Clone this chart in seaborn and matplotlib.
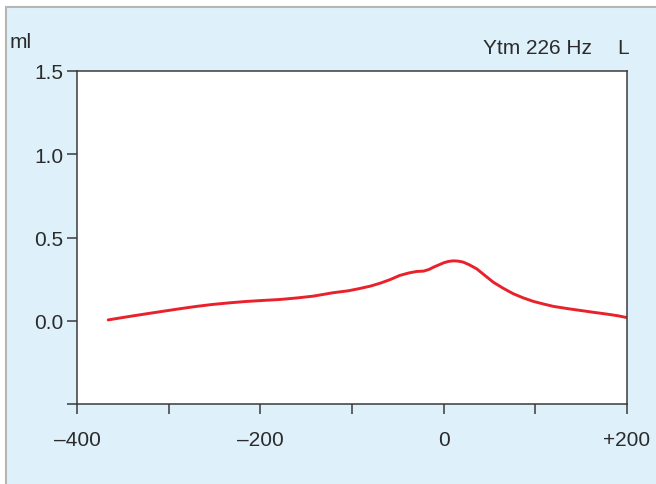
import matplotlib
matplotlib.use("Agg")
import matplotlib.pyplot as plt
import seaborn as sns
import pandas as pd
from matplotlib.patches import Rectangle

# Data
pressure = [-366, -345, -324, -306, -288, -270, -252, -233, -215, -197, -178, -160, -142, -121,
            -104, -93, -80, -69, -58, -48, -38, -29.5, -22, -16, -11, -5, 0, 5, 10.5, 16, 21.4,
            28, 36, 45, 54, 65, 76, 87, 98, 110, 120, 135, 149, 163, 178, 190, 199]
volume = [0.005, 0.024, 0.042, 0.057, 0.072, 0.086, 0.098, 0.108, 0.116, 0.122, 0.128, 0.137,
          0.148, 0.168, 0.180, 0.192, 0.208, 0.226, 0.248, 0.272, 0.287, 0.296, 0.298, 0.308,
          0.322, 0.336, 0.348, 0.356, 0.360, 0.358, 0.352, 0.336, 0.312, 0.272, 0.232, 0.195,
          0.162, 0.137, 0.116, 0.099, 0.086, 0.073, 0.062, 0.051, 0.040, 0.030, 0.020]

x_ticks = [-400, -300, -200, -100, 0, 100, 200]
x_labels = ["\u2013400", "", "\u2013200", "", "0", "", "+200"]
y_ticks = [-0.5, 0.0, 0.5, 1.0, 1.5]
y_labels = ["", "0.0", "0.5", "1.0", "1.5"]

sns.set_theme(style="white")
plt.rcParams["font.family"] = ["Liberation Sans", "DejaVu Sans"]

BG = "#def1fa"
TXT = "#2b2b2b"
SP = "#3a3a3a"
FS = 15

fig = plt.figure(figsize=(6.56, 4.85), dpi=100, facecolor="white")
fig.patches.append(Rectangle((6 / 656, -0.1), 1.2, 1 - 8 / 485 + 0.1, transform=fig.transFigure,
                             facecolor=BG, edgecolor="#b5b5b5", linewidth=1.5, zorder=-10))

ax = fig.add_axes([77 / 656, 1 - 405 / 485, 550 / 656, 333 / 485])
ax.set_zorder(5)
ax.set_facecolor("white")

df = pd.DataFrame({"pressure": pressure, "volume": volume})
sns.lineplot(data=df, x="pressure", y="volume", ax=ax, color="#e8212b", linewidth=2.1,
             sort=False, estimator=None)

ax.set_xlim(-400, 200)
ax.set_ylim(-0.5, 1.5)
ax.set_xticks(x_ticks)
ax.set_xticklabels(x_labels)
ax.set_yticks(y_ticks)
ax.set_yticklabels(y_labels)
ax.set_xlabel("")
ax.set_ylabel("")

for s in ax.spines.values():
    s.set_visible(True)
    s.set_color(SP)
    s.set_linewidth(1.1)

ax.tick_params(axis="both", direction="out", length=7, width=1.1, color=SP,
               labelsize=FS, labelcolor=TXT, left=True, bottom=True)
ax.tick_params(axis="x", pad=12)
ax.tick_params(axis="y", pad=3)

fig.text(10 / 656, 1 - 42 / 485, "ml", fontsize=FS, color=TXT, ha="left", va="center", zorder=6)
fig.text(592 / 656, 1 - 48 / 485, "Ytm 226 Hz", fontsize=FS, color=TXT, ha="right", va="center", zorder=6)
fig.text(629 / 656, 1 - 48 / 485, "L", fontsize=FS, color=TXT, ha="right", va="center", zorder=6)

fig.savefig("out.png", dpi=100, facecolor=fig.get_facecolor())
